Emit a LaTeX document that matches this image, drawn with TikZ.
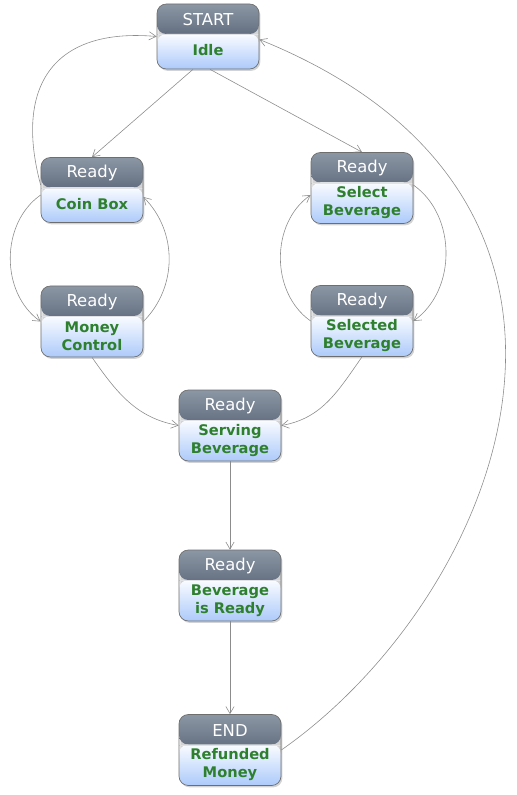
\documentclass[tikz,border=0pt]{standalone}
\usepackage{fontspec}
\setmainfont{DejaVu Sans}
\usetikzlibrary{arrows.meta,calc,shadows}

\definecolor{hdtop}{RGB}{140,151,165}
\definecolor{hdbot}{RGB}{52,64,86}
\definecolor{bdtop}{RGB}{250,252,255}
\definecolor{bdbot}{RGB}{172,202,250}
\definecolor{boxline}{RGB}{110,110,110}
\definecolor{txgreen}{RGB}{46,128,46}
\definecolor{edgegray}{RGB}{140,140,140}

\tikzset{
  statebox/.style={draw=boxline, line width=0.6pt, rounded corners=0.28cm,
    minimum width=3.06cm, inner sep=0pt,
    drop shadow={opacity=0.35, shadow xshift=1.2pt, shadow yshift=-1.6pt},
    path picture={
      \shade[top color=hdtop, bottom color=hdbot]
        (path picture bounding box.north west) rectangle
        ([yshift=-0.9cm]path picture bounding box.north east);
      \shade[top color=bdtop, bottom color=bdbot]
        ([yshift=-0.9cm]path picture bounding box.north west) rectangle
        (path picture bounding box.south east);
      \draw[white!85!hdbot]
        ([yshift=-0.92cm]path picture bounding box.north west) --
        ([yshift=-0.92cm]path picture bounding box.north east);
    }},
  onerow/.style={statebox, minimum height=1.95cm},
  tworow/.style={statebox, minimum height=2.13cm},
  headtext/.style={text=white, inner sep=0pt, font=\fontsize{14}{16}\selectfont},
  bodytext/.style={text=txgreen, inner sep=0pt, align=center,
    font=\bfseries\fontsize{12.5}{15.3}\selectfont},
  flow/.style={draw=edgegray, line width=0.5pt,
    -{Straight Barb[length=6pt,width=7pt]}}
}

\begin{document}
\begin{tikzpicture}[x=0.03cm, y=0.03cm]

    % page frame
    \useasboundingbox (0,0) rectangle (517,-795);

    % START state
    \node[onerow] (idle) at (208,-36.5) {};
    \node[headtext] (idle-hd) at ($(idle.north)+(0,-16)$) {START};
    \node[bodytext] (idle-tx) at ($(idle.south)+(0,19)$) {Idle};

    % left branch: coin handling
    \node[onerow] (coinbox) at (92,-190) {};
    \node[headtext] (coinbox-hd) at ($(coinbox.north)+(0,-16)$) {Ready};
    \node[bodytext] (coinbox-tx) at ($(coinbox.south)+(0,19)$) {Coin Box};

    \node[tworow] (moneyctl) at (92,-321.5) {};
    \node[headtext] (moneyctl-hd) at ($(moneyctl.north)+(0,-16)$) {Ready};
    \node[bodytext] (moneyctl-tx) at ($(moneyctl.south)+(0,21)$) {Money\\Control};

    % right branch: beverage choice
    \node[tworow] (selectbev) at (362,-188) {};
    \node[headtext] (selectbev-hd) at ($(selectbev.north)+(0,-16)$) {Ready};
    \node[bodytext] (selectbev-tx) at ($(selectbev.south)+(0,21)$) {Select\\Beverage};

    \node[tworow] (selectedbev) at (362,-321) {};
    \node[headtext] (selectedbev-hd) at ($(selectedbev.north)+(0,-16)$) {Ready};
    \node[bodytext] (selectedbev-tx) at ($(selectedbev.south)+(0,21)$) {Selected\\Beverage};

    % middle column
    \node[tworow] (serving) at (230,-425.5) {};
    \node[headtext] (serving-hd) at ($(serving.north)+(0,-16)$) {Ready};
    \node[bodytext] (serving-tx) at ($(serving.south)+(0,21)$) {Serving\\Beverage};

    \node[tworow] (bevready) at (230,-585.5) {};
    \node[headtext] (bevready-hd) at ($(bevready.north)+(0,-16)$) {Ready};
    \node[bodytext] (bevready-tx) at ($(bevready.south)+(0,21)$) {Beverage\\is Ready};

    % END state
    \node[tworow] (refund) at (230,-750) {};
    \node[headtext] (refund-hd) at ($(refund.north)+(0,-16)$) {END};
    \node[bodytext] (refund-tx) at ($(refund.south)+(0,21)$) {Refunded\\Money};

    % transitions out of START
    \draw[flow] ($(idle.south)+(-15,0)$) -- (coinbox.north);
    \draw[flow] ($(idle.south)+(2,0)$) -- (selectbev.north);
    \draw[flow] ($(coinbox.west)+(0,5)$) to[out=105,in=175,looseness=1.4] (idle.west);

    % coin box <-> money control
    \draw[flow] ($(coinbox.west)+(0,-5)$) to[out=215,in=145] (moneyctl.west);
    \draw[flow] (moneyctl.east) to[out=45,in=-45] ($(coinbox.east)+(0,-7)$);

    % select <-> selected beverage
    \draw[flow] ($(selectbev.east)+(0,3)$) to[out=-35,in=35] (selectedbev.east);
    \draw[flow] (selectedbev.west) to[out=145,in=215] ($(selectbev.west)+(0,-7)$);

    % into serving
    \draw[flow] (moneyctl.south) to[out=-55,in=170] (serving.west);
    \draw[flow] (selectedbev.south) to[out=-125,in=10] (serving.east);

    % down the middle
    \draw[flow] (serving.south) -- (bevready.north);
    \draw[flow] (bevready.south) -- (refund.north);

    % back to START
    \draw[flow] (refund.east) to[out=35,in=-22,out distance=8.1cm,in distance=12.9cm]
      ($(idle.east)+(0,-3)$);

\end{tikzpicture}
\end{document}
